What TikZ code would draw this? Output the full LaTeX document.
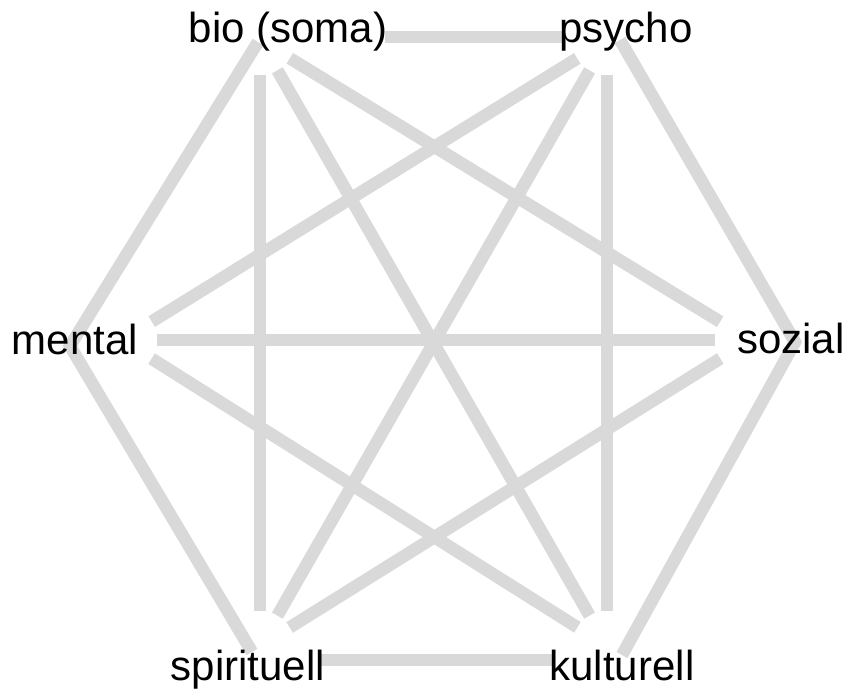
\documentclass[tikz,border=0pt]{standalone}
\usepackage{fontspec}
\setmainfont{Liberation Sans}
\usepackage{tikz}
\usetikzlibrary{positioning}
\definecolor{hexline}{HTML}{D9D9D9}

\begin{document}
\begin{tikzpicture}[x=0.5pt,y=-0.5pt,
  hexlabel/.style={anchor=base,inner sep=0pt,
    font=\fontsize{21}{25}\selectfont},
  hexedge/.style={draw=hexline,line width=6.25pt,line join=miter},
  hexchord/.style={hexedge,shorten <=17.5pt,shorten >=17.5pt}
]
  \useasboundingbox (0,0) rectangle (856,689);

  \coordinate (outbio) at (258,42);
  \coordinate (outpsycho) at (620,40);
  \coordinate (outsozial) at (795,342);
  \coordinate (outkultur) at (622,655);
  \coordinate (outspirit) at (252,652);
  \coordinate (outmental) at (70,346);
  \coordinate (topleft) at (385,37);
  \coordinate (topright) at (562,37);
  \coordinate (botleft) at (320,660);
  \coordinate (botright) at (553,660);

  \coordinate (inbio) at (260,40);
  \coordinate (inpsycho) at (607,40);
  \coordinate (insozial) at (750,340);
  \coordinate (inkultur) at (607,646);
  \coordinate (inspirit) at (260,646);
  \coordinate (inmental) at (122,340);

  \draw[hexedge] (outbio) -- (outmental) -- (outspirit);
  \draw[hexedge] (outpsycho) -- (outsozial) -- (outkultur);
  \draw[hexedge] (topleft) -- (topright);
  \draw[hexedge] (botleft) -- (botright);

  \draw[hexchord] (inbio) -- (inspirit);
  \draw[hexchord] (inbio) -- (inkultur);
  \draw[hexchord] (inbio) -- (insozial);
  \draw[hexchord] (inpsycho) -- (inmental);
  \draw[hexchord] (inpsycho) -- (inspirit);
  \draw[hexchord] (inpsycho) -- (inkultur);
  \draw[hexchord] (inmental) -- (insozial);
  \draw[hexchord] (inmental) -- (inkultur);
  \draw[hexchord] (insozial) -- (inspirit);

  \node[hexlabel] (bio) at (288,43) {bio (soma)};
  \node[hexlabel] (psycho) at (626,43) {psycho};
  \node[hexlabel] (mental) at (75,355) {mental};
  \node[hexlabel] (sozial) at (791,354) {sozial};
  \node[hexlabel] (spirit) at (248,680) {spirituell};
  \node[hexlabel] (kultur) at (622,680) {kulturell};
\end{tikzpicture}
\end{document}
